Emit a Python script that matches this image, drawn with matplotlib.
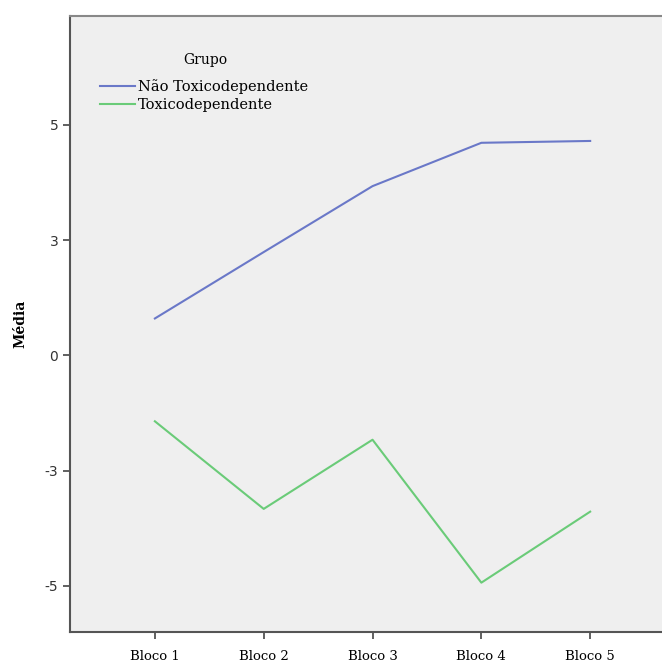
import numpy as np
import matplotlib
matplotlib.use("Agg")
import matplotlib.pyplot as plt

# data
blocos = ["Bloco 1", "Bloco 2", "Bloco 3", "Bloco 4", "Bloco 5"]
nao_toxico = [0.80, 2.24, 3.67, 4.61, 4.65]
toxico = [-1.43, -3.33, -1.83, -4.93, -3.39]
y_ticks = [-5, -2.5, 0, 2.5, 5]
y_tick_labels = ["-5", "-3", "0", "3", "5"]

BLUE = "#6a78c8"
GREEN = "#6acb78"

fig = plt.figure(figsize=(6.62, 6.62), dpi=100)
ax = fig.add_axes([70 / 662, 30 / 662, 592 / 662, 616 / 662])
ax.set_facecolor("#efefef")

x = np.arange(len(blocos))
ax.plot(x, nao_toxico, color=BLUE, lw=1.5, label="Não Toxicodependente")
ax.plot(x, toxico, color=GREEN, lw=1.5, label="Toxicodependente")

ax.set_xlim(-0.78, 4.66)
ax.set_ylim(-6.0, 7.36)
ax.set_xticks(x)
ax.set_xticklabels(blocos, family="DejaVu Serif", fontsize=9.5)
ax.set_yticks(y_ticks)
ax.set_yticklabels(y_tick_labels, fontsize=10, color="#333333")
ax.tick_params(axis="both", length=5, width=1.2, color="#444444", direction="out")
ax.tick_params(axis="x", pad=8)

ax.set_ylabel("Média", family="DejaVu Serif", fontweight="bold", fontsize=10, labelpad=12)

for side in ["left", "bottom"]:
    ax.spines[side].set_color("#555555")
    ax.spines[side].set_linewidth(1.5)
ax.spines["top"].set_color("#888888")
ax.spines["top"].set_linewidth(1.5)
ax.spines["right"].set_visible(False)

# legend title drawn separately so the gap matches
ax.text(0.228, 0.929, "Grupo", transform=ax.transAxes, ha="center", va="center",
        family="DejaVu Serif", fontsize=10)
leg = ax.legend(loc="upper left", bbox_to_anchor=(0.05, 0.897),
                frameon=False, prop={"family": "DejaVu Serif", "size": 10.5},
                borderpad=0, borderaxespad=0,
                handlelength=2.4, handletextpad=0.2, labelspacing=0.25)

fig.savefig("out.png", dpi=100)
